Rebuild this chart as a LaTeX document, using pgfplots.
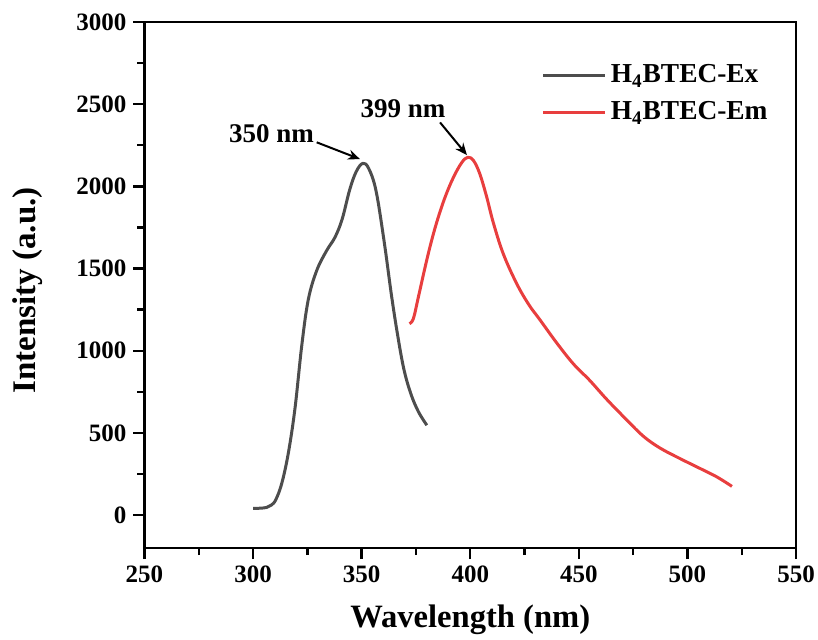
\documentclass[border=0pt]{standalone}
\usepackage{fontspec}
\setmainfont{Liberation Serif}
\usepackage{pgfplots}
\pgfplotsset{compat=1.18}
\usetikzlibrary{arrows.meta}
\definecolor{exgray}{RGB}{77,77,77}
\definecolor{emred}{RGB}{232,62,62}
\begin{document}
\begin{tikzpicture}
\begin{axis}[
  at={(0,0)}, anchor=south west,
  width=325.75pt, height=263pt, scale only axis,
  xmin=250, xmax=550, ymin=-200, ymax=3000,
  xtick={250,300,...,550}, ytick={0,500,...,3000},
  minor x tick num=1, minor y tick num=1,
  tick align=outside, tick pos=left,
  major tick length=5.5pt, minor tick length=3.5pt,
  axis line style={line width=1.2pt},
  every tick/.style={line width=1.2pt, black},
  ticklabel style={font=\fontsize{12.5}{14}\selectfont\bfseries},
  /pgf/number format/assume math mode=true,
  /pgf/number format/1000 sep={},
  xlabel={Wavelength (nm)}, ylabel={Intensity (a.u.)},
  xlabel style={font=\fontsize{16.3}{19}\selectfont\bfseries,
    at={(axis description cs:0.5,-0.137)}, anchor=center},
  ylabel style={font=\fontsize{16.5}{19}\selectfont\bfseries,
    at={(axis description cs:-0.18,0.49)}, anchor=center},
  legend style={at={(0.6,0.935)}, anchor=north west, draw=none, fill=none,
    font=\fontsize{13.7}{15}\selectfont\bfseries, row sep=4pt},
  legend cell align=left,
  legend image code/.code={\draw[#1, line width=1.5pt] (0pt,0pt) -- (31pt,0pt);},
  every axis plot/.append style={line width=1.5pt, line join=round},
]
\addplot[exgray, smooth, tension=0.6] coordinates {
(300,41) (303,42) (306.3,47) (308.5,62) (310.5,95) (313.2,193) (316.2,375)
(319.3,650) (322.4,1030) (325.4,1310) (329.3,1488) (333.9,1610) (337.7,1690)
(341,1800) (344.5,1980) (347.5,2090) (350.5,2140) (353.2,2110)
(356.6,1974) (360.4,1660) (363.7,1340) (366.5,1100) (369.4,890) (372.6,740)
(376.1,630) (380,547)
};
\addlegendentry{H\textsubscript{4}BTEC-Ex}
\addplot[emred, smooth, tension=0.6] coordinates {
(372,1165) (373.8,1195) (376.1,1326) (379.2,1508) (381.8,1650) (384.8,1792)
(388.4,1934) (392.3,2056) (396.1,2145) (398.9,2177) (401.5,2157) (404.3,2080)
(407.4,1944) (410.6,1780) (415.2,1590) (421.4,1408) (427,1280) (432,1190)
(439.8,1048) (447.5,920) (455,820) (462.8,705) (472.0,580) (479.7,480)
(487.4,408) (496.6,344) (505.8,284) (513.5,233) (520.5,175)
};
\addlegendentry{H\textsubscript{4}BTEC-Em}
\node[font=\fontsize{13.5}{15}\selectfont\bfseries] at (axis cs:308.5,2321) {350 nm};
\draw[-{Stealth[length=6pt,width=5pt]}, line width=1pt] (axis cs:329.3,2268) -- (axis cs:349.2,2166);
\node[font=\fontsize{13.5}{15}\selectfont\bfseries] at (axis cs:369,2473) {399 nm};
\draw[-{Stealth[length=6pt,width=5pt]}, line width=1pt] (axis cs:386.1,2389) -- (axis cs:398.5,2190);
\end{axis}
\pgfresetboundingbox
\path (-72.25pt,-45.5pt) rectangle (336.75pt,274pt);
\end{tikzpicture}
\end{document}
